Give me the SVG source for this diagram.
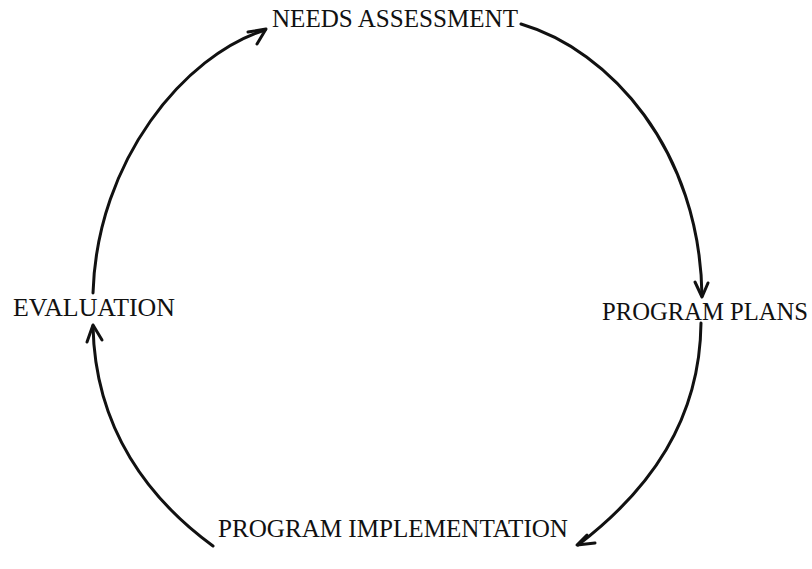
<svg xmlns="http://www.w3.org/2000/svg" width="812" height="569" viewBox="0 0 812 569">
  <style>
    .label { font-family: "Liberation Serif", "DejaVu Serif", serif; font-size: 25px; fill: #111; }
    .flow { fill: none; stroke: #111; stroke-width: 3; stroke-linecap: round; stroke-linejoin: round; }
  </style>
  <rect width="812" height="569" fill="#fff"/>

  <!-- cycle stages -->
  <g id="needs-assessment">
    <text class="label" x="272" y="27" textLength="246" lengthAdjust="spacingAndGlyphs">NEEDS ASSESSMENT</text>
  </g>
  <g id="program-plans">
    <text class="label" x="602" y="320" textLength="206" lengthAdjust="spacingAndGlyphs">PROGRAM PLANS</text>
  </g>
  <g id="program-implementation">
    <text class="label" x="218" y="537" textLength="350" lengthAdjust="spacingAndGlyphs">PROGRAM IMPLEMENTATION</text>
  </g>
  <g id="evaluation">
    <text class="label" x="13" y="316" textLength="162" lengthAdjust="spacingAndGlyphs">EVALUATION</text>
  </g>

  <!-- curved arrows running clockwise round the cycle -->
  <g id="connectors">
    <!-- needs assessment to program plans -->
    <path class="flow" d="M521,24 C610,50 700,150 702,296"/>
    <path class="flow" d="M695,282 L702,297 L708,283"/>
    <!-- program plans to implementation -->
    <path class="flow" d="M701,323 C700,420 650,490 578,545"/>
    <path class="flow" d="M587,535 L577,545 L595,543"/>
    <!-- implementation to evaluation -->
    <path class="flow" d="M213,546 C150,500 95,430 93,326"/>
    <path class="flow" d="M87,342 L93,325 L102,340"/>
    <!-- evaluation to needs assessment -->
    <path class="flow" d="M93,293 C97,160 185,55 265,30"/>
    <path class="flow" d="M248,32 L266,29 L257,44"/>
  </g>
</svg>
